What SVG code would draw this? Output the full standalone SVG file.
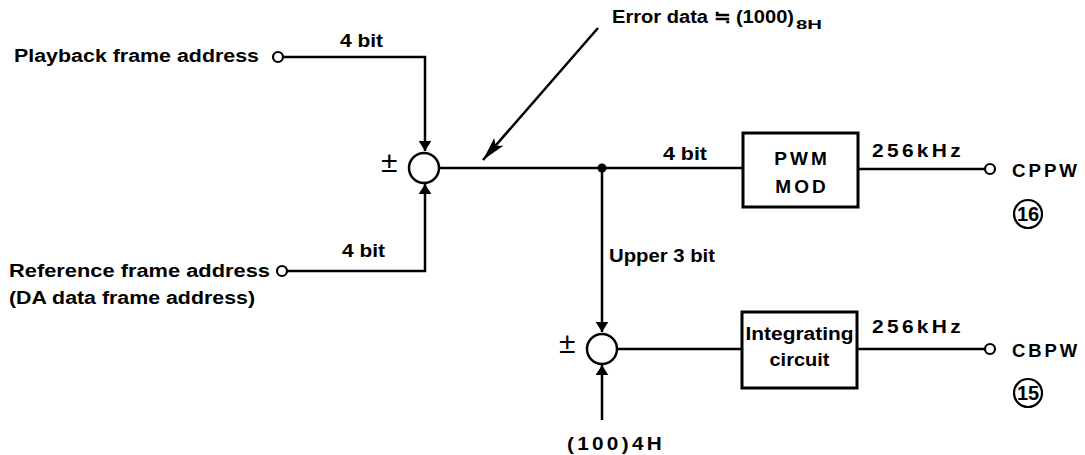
<svg xmlns="http://www.w3.org/2000/svg" width="1085" height="455" viewBox="0 0 1085 455">
<style>
text{font-family:"Liberation Sans",Arial,sans-serif;font-weight:bold;fill:#000;font-size:18px}
.ln{fill:none;stroke:#000;stroke-width:2.5}
.bx{fill:#fff;stroke:#000;stroke-width:3}
.term{fill:#fff;stroke:#000;stroke-width:2.2}
.sum{fill:#fff;stroke:#000;stroke-width:2.5}
.big{font-size:19px;letter-spacing:3px}
.pm{font-size:30px;font-weight:normal}
.sub{font-size:13px}
.num{font-size:20px;font-weight:bold}
.ring{fill:none;stroke:#000;stroke-width:2.2}
</style>
<defs>
<marker id="ah" markerWidth="10" markerHeight="18" refX="10" refY="5" orient="auto" markerUnits="userSpaceOnUse" viewBox="0 0 10 10" preserveAspectRatio="none">
<path d="M0,1.5 L10,5 L0,8.5 Z" fill="#000"/>
</marker>
<marker id="ah2" markerWidth="24" markerHeight="12" refX="24" refY="6" orient="auto" markerUnits="userSpaceOnUse">
<path d="M0,0 L24,6 L0,12 L5,6 Z" fill="#000"/>
</marker>
</defs>
<g id="connectors">
<path class="ln" d="M283,57 H425 V151" marker-end="url(#ah)"/>
<path class="ln" d="M287,271 H425 V184" marker-end="url(#ah)"/>
<path class="ln" d="M439,168 H743"/>
<circle cx="602" cy="168" r="4.5" fill="#000"/>
<path class="ln" d="M602,168 V332" marker-end="url(#ah)"/>
<path class="ln" d="M602,420 V365" marker-end="url(#ah)"/>
<path class="ln" d="M617,349 H742"/>
<path class="ln" d="M858,169 H985"/>
<path class="ln" d="M857,349 H985"/>
<path class="ln" d="M598,28 L483,160" marker-end="url(#ah2)"/>
</g>
<g id="playback">
<text x="14" y="62" textLength="245" lengthAdjust="spacingAndGlyphs">Playback frame address</text>
<circle class="term" cx="278" cy="57" r="5"/>
<text x="340" y="47" textLength="43" lengthAdjust="spacingAndGlyphs">4 bit</text>
</g>
<g id="reference">
<text x="9" y="277" textLength="261" lengthAdjust="spacingAndGlyphs">Reference frame address</text>
<text x="9" y="304" textLength="246" lengthAdjust="spacingAndGlyphs">(DA data frame address)</text>
<circle class="term" cx="282" cy="271" r="5"/>
<text x="342" y="257" textLength="43" lengthAdjust="spacingAndGlyphs">4 bit</text>
</g>
<g id="sum1">
<circle class="sum" cx="424" cy="168" r="15"/>
<text class="pm" x="381" y="172">±</text>
</g>
<g id="error-label">
<text x="612" y="23" textLength="182" lengthAdjust="spacingAndGlyphs">Error data ≒ (1000)</text>
<text class="sub" x="796" y="29" textLength="26" lengthAdjust="spacingAndGlyphs">8H</text>
</g>
<text x="663" y="160" textLength="44" lengthAdjust="spacingAndGlyphs">4 bit</text>
<g id="pwm">
<rect class="bx" x="743" y="133" width="115" height="74"/>
<text class="big" x="802" y="165" text-anchor="middle">PWM</text>
<text class="big" x="802" y="193" text-anchor="middle">MOD</text>
</g>
<g id="cppw">
<text class="big" x="872" y="157" textLength="92" lengthAdjust="spacingAndGlyphs">256kHz</text>
<circle class="term" cx="990" cy="169" r="5"/>
<text class="big" x="1012" y="177" textLength="68" lengthAdjust="spacingAndGlyphs">CPPW</text>
<circle class="ring" cx="1028" cy="214" r="14"/>
<text class="num" x="1028" y="221" text-anchor="middle">16</text>
</g>
<text x="609" y="262" textLength="106" lengthAdjust="spacingAndGlyphs">Upper 3 bit</text>
<g id="sum2">
<circle class="sum" cx="602" cy="349" r="15"/>
<text class="pm" x="559" y="353">±</text>
</g>
<text class="big" x="567" y="450" textLength="98" lengthAdjust="spacingAndGlyphs">(100)4H</text>
<g id="integrator">
<rect class="bx" x="742" y="312" width="115" height="76"/>
<text x="799.5" y="340" text-anchor="middle" textLength="108" lengthAdjust="spacingAndGlyphs">Integrating</text>
<text x="799.5" y="366" text-anchor="middle" textLength="60" lengthAdjust="spacingAndGlyphs">circuit</text>
</g>
<g id="cbpw">
<text class="big" x="872" y="333" textLength="92" lengthAdjust="spacingAndGlyphs">256kHz</text>
<circle class="term" cx="990" cy="349" r="5"/>
<text class="big" x="1012" y="357" textLength="68" lengthAdjust="spacingAndGlyphs">CBPW</text>
<circle class="ring" cx="1028" cy="393" r="14"/>
<text class="num" x="1028" y="400" text-anchor="middle">15</text>
</g>
</svg>
